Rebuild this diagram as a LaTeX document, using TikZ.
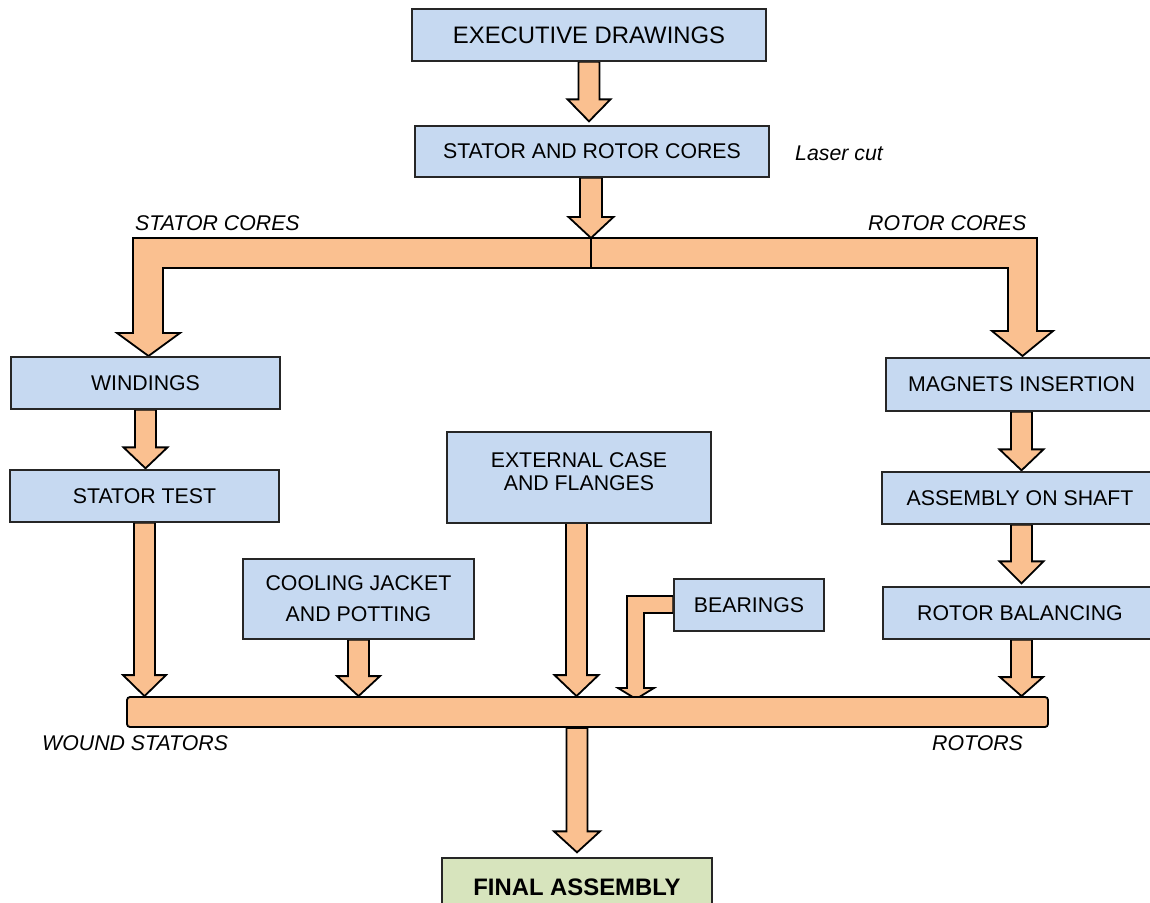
\documentclass[tikz,border=0pt]{standalone}
\usepackage{fontspec}
\setmainfont{Liberation Sans}
\usetikzlibrary{calc,backgrounds}
\definecolor{boxblue}{HTML}{C6D9F1}
\definecolor{arrowor}{HTML}{FAC090}
\definecolor{finalgreen}{HTML}{D7E4BD}
% #1 start (y of tail), #2 tip reference (x of arrow, y of target), #3 half shaft, #4 half head, #5 head length, #6 gap above target
\newcommand\vblock[6]{%
  \path[blockarrow] let \p1=(#1), \p2=(#2) in
    (\x2-#3pt,\y1) -- (\x2+#3pt,\y1) -- (\x2+#3pt,\y2+#6pt+#5pt) -- (\x2+#4pt,\y2+#6pt+#5pt)
    -- (\x2,\y2+#6pt) -- (\x2-#4pt,\y2+#6pt+#5pt) -- (\x2-#3pt,\y2+#6pt+#5pt) -- cycle;}
\tikzset{
  box/.style={draw=black!85, line width=1.3pt, fill=boxblue, minimum height=52pt,
    inner sep=2pt, font=\fontsize{21.3}{25}\selectfont},
  blockarrow/.style={draw=black, line width=1.8pt, fill=arrowor, line join=miter},
  lbl/.style={font=\fontsize{21.3}{25}\selectfont\itshape, inner sep=0pt},
}
\begin{document}
\begin{tikzpicture}[x=1pt,y=-1pt]
\useasboundingbox (0,0) rectangle (1150,902);
\clip (0,0) rectangle (1150,902);

% boxes
\node[box, minimum width=354pt, font=\fontsize{23.85}{28}\selectfont] (exec) at (589,35) {EXECUTIVE DRAWINGS};
\node[box, minimum width=354pt, minimum height=51pt] (sarc) at (592,151.5) {STATOR AND ROTOR CORES};
\node[box, minimum width=269pt] (wind) at (145.5,383) {WINDINGS};
\node[box, minimum width=269pt] (stest) at (144.5,496) {STATOR TEST};
\node[box, minimum width=271pt, minimum height=53pt] (magn) at (1021.5,384.5) {MAGNETS INSERTION};
\node[box, minimum width=276pt] (asm) at (1020,498) {ASSEMBLY ON SHAFT};
\node[box, minimum width=274pt] (bal) at (1020,613) {ROTOR BALANCING};
\node[box, minimum width=231pt, minimum height=80pt, align=center,
      font=\fontsize{21.3}{31}\selectfont] (cool) at (358.5,599) {COOLING JACKET\\AND POTTING};
\node[box, minimum width=264pt, minimum height=91pt, align=center,
      font=\fontsize{21.3}{23.5}\selectfont, text depth=12pt] (ext) at (579,477.5) {EXTERNAL CASE\\AND FLANGES};
\node[box, minimum width=150pt] (bear) at (749,605) {BEARINGS};
\node[draw=black, line width=1.8pt, fill=arrowor, rounded corners=3pt, minimum width=921pt,
      minimum height=30pt, inner sep=0pt] (bus) at (587.5,712) {};
\node[box, fill=finalgreen, minimum width=270pt, minimum height=58pt,
      font=\fontsize{23.85}{28}\selectfont\bfseries] (final) at (577,887) {FINAL ASSEMBLY};

% labels
\node[lbl, anchor=base west] (laser) at (795,160.7) {Laser cut};
\node[lbl, anchor=base west] (statc) at (135,230) {STATOR CORES};
\node[lbl, anchor=base west] (rotc) at (868,230) {ROTOR CORES};
\node[lbl, anchor=base west] (wound) at (42,750.7) {WOUND STATORS};
\node[lbl, anchor=base west] (rotors) at (932,750.7) {ROTORS};

\coordinate (split) at (591,238);
\coordinate (extbot) at (576.5,523);

% block arrows
\begin{scope}[on background layer]
  \vblock{exec.south}{exec.south |- sarc.north}{10.5}{21.5}{22}{4}
  \vblock{sarc.south}{split}{11}{22.5}{21}{0}
  % split into stator cores (left) and rotor cores (right)
  \path[blockarrow] (split) -- (133,238) -- (133,333) -- (117,333) -- (148.5,356) -- (180,333)
     -- (163,333) -- (163,268) -- (591,268) -- cycle;
  \path[blockarrow] (split) -- (1037,238) -- (1037,331) -- (1053,331) -- (1022.5,356) -- (992,331)
     -- (1008,331) -- (1008,268) -- (591,268) -- cycle;
  \vblock{wind.south}{wind.south |- stest.north}{10.5}{22}{21}{1}
  \vblock{stest.south}{stest.south |- bus.north}{10.5}{21.5}{21}{0}
  \vblock{cool.south}{cool.south |- bus.north}{10.5}{21.5}{20}{0}
  \vblock{extbot}{extbot |- bus.north}{10.5}{22}{21}{0}
  \vblock{magn.south}{magn.south |- asm.north}{10.5}{22}{21}{1}
  \vblock{asm.south}{magn.south |- bal.north}{10.5}{22}{22}{3}
  \vblock{bal.south}{magn.south |- bus.north}{10.5}{21.5}{19}{0}
  \vblock{bus.south}{final.north}{10.5}{23}{21}{5}
  % bearings bent arrow
  \path[blockarrow] (bear.west |- 0,596) -- (627,596) -- (627,688) -- (618,688) -- (636,699)
     -- (654,688) -- (644,688) -- (644,613) -- (bear.west |- 0,613) -- cycle;
\end{scope}
\end{tikzpicture}
\end{document}
